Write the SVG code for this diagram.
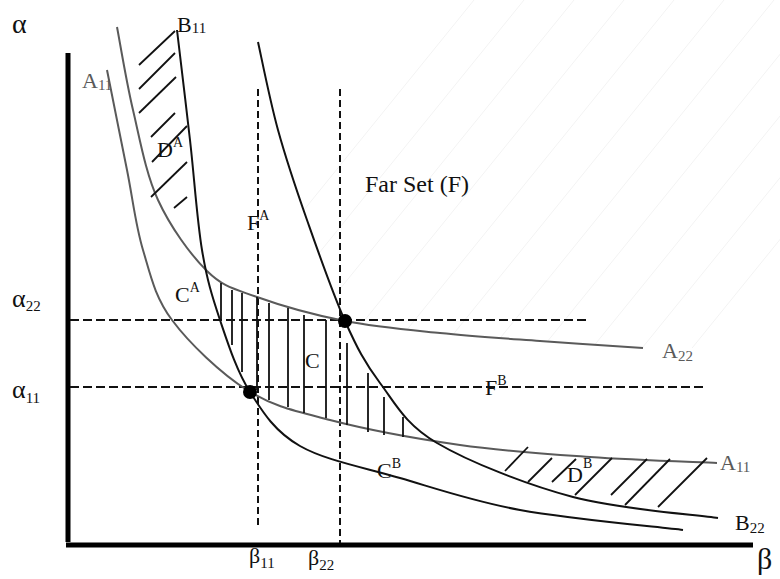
<svg xmlns="http://www.w3.org/2000/svg" width="780" height="579" viewBox="0 0 780 579">
<style>
text{font-family:"Liberation Serif","Times New Roman",serif;fill:#111}
.lbl{font-size:22px}
.gray{fill:#5a5a5a}
.sub{font-size:15px}
.sup{font-size:14px}
.curveA{fill:none;stroke:#5a5a5a;stroke-width:2}
.curveB{fill:none;stroke:#111;stroke-width:2}
.hatch{stroke:#111;stroke-width:1.8;fill:none}
.dash{stroke:#111;stroke-width:2;stroke-dasharray:9 4;fill:none}
.vdash{stroke:#111;stroke-width:2;stroke-dasharray:7 4;fill:none}
.faint{stroke:#f3f3f3;stroke-width:1}
.axis{stroke:#000;stroke-width:5}
</style>
<defs>
<clipPath id="farClip">
<polygon points="258,42 278,130 307,220 345,321 440,333 643,348 780,348 780,0 258,0"/>
</clipPath>
</defs>
<rect width="780" height="579" fill="#fff"/>

<g id="far-set-shading" clip-path="url(#farClip)">
<line class="faint" x1="150" y1="400" x2="474" y2="0"/>
<line class="faint" x1="200" y1="400" x2="524" y2="0"/>
<line class="faint" x1="250" y1="400" x2="574" y2="0"/>
<line class="faint" x1="300" y1="400" x2="624" y2="0"/>
<line class="faint" x1="350" y1="400" x2="674" y2="0"/>
<line class="faint" x1="400" y1="400" x2="724" y2="0"/>
<line class="faint" x1="450" y1="400" x2="774" y2="0"/>
<line class="faint" x1="500" y1="400" x2="824" y2="0"/>
<line class="faint" x1="550" y1="400" x2="874" y2="0"/>
<line class="faint" x1="600" y1="400" x2="924" y2="0"/>
<line class="faint" x1="650" y1="400" x2="974" y2="0"/>
</g>

<g id="axes">
<line class="axis" x1="68" y1="53" x2="68" y2="542"/>
<line class="axis" x1="66" y1="545" x2="753" y2="545"/>
</g>

<g id="connectors">
<line class="dash" x1="70" y1="320" x2="588" y2="320"/>
<line class="dash" x1="70" y1="387" x2="706" y2="387"/>
<line class="vdash" x1="258" y1="89" x2="258" y2="527"/>
<line class="vdash" x1="340" y1="89" x2="340" y2="543"/>
</g>

<g id="curve-A11">
<path class="curveA" d="M107,70 C110.3,86.7 121,140 127,170 C133,200 135.5,225 143,250 C150.5,275 154.7,296.7 172,320 C189.3,343.3 220.7,373.3 247,390 C273.3,406.7 294.5,410.8 330,420 C365.5,429.2 416.7,438.8 460,445 C503.3,451.2 547.2,454 590,457 C632.8,460 695.8,462 717,463"/>
</g>
<g id="curve-A22">
<path class="curveA" d="M117,27 C119.7,40.8 126.2,81.2 133,110 C139.8,138.8 145.7,173.2 158,200 C170.3,226.8 190.5,254.8 207,271 C223.5,287.2 234,288.7 257,297 C280,305.3 314.5,315 345,321 C375.5,327 407.5,329.7 440,333 C472.5,336.3 506.2,338.5 540,341 C573.8,343.5 625.8,346.8 643,348"/>
</g>
<g id="curve-B11">
<path class="curveB" d="M177,30 C179.2,48.3 185.8,103.3 190,140 C194.2,176.7 197,220 202,250 C207,280 212,296.3 220,320 C228,343.7 236.7,371 250,392 C263.3,413 275,431.7 300,446 C325,460.3 363.3,467.3 400,478 C436.7,488.7 472.8,501.3 520,510 C567.2,518.7 655.8,526.7 683,530"/>
</g>
<g id="curve-B22">
<path class="curveB" d="M258,42 C261.3,56.7 269.8,100.3 278,130 C286.2,159.7 295.8,188.2 307,220 C318.2,251.8 332.8,293.8 345,321 C357.2,348.2 364.7,362.7 380,383 C395.3,403.3 404.8,424 437,443 C469.2,462 526.2,484.5 573,497 C619.8,509.5 693.8,514.5 718,518"/>
</g>

<g id="region-DA">
<line class="hatch" x1="139" y1="65" x2="175" y2="31"/>
<line class="hatch" x1="139" y1="89" x2="175" y2="53"/>
<line class="hatch" x1="139" y1="113" x2="176" y2="77"/>
<line class="hatch" x1="151" y1="137" x2="175" y2="113"/>
<line class="hatch" x1="152" y1="162" x2="187" y2="126"/>
<line class="hatch" x1="151" y1="197" x2="187" y2="162"/>
<line class="hatch" x1="174" y1="208" x2="187" y2="197"/>
</g>

<g id="region-C">
<line class="hatch" x1="221" y1="283" x2="221" y2="320"/>
<line class="hatch" x1="232" y1="290" x2="232" y2="345"/>
<line class="hatch" x1="242" y1="293" x2="242" y2="372"/>
<line class="hatch" x1="257" y1="297" x2="257" y2="390"/>
<line class="hatch" x1="269" y1="303" x2="269" y2="400"/>
<line class="hatch" x1="288" y1="308" x2="288" y2="407"/>
<line class="hatch" x1="304" y1="315" x2="304" y2="413"/>
<line class="hatch" x1="326" y1="320" x2="326" y2="418"/>
<line class="hatch" x1="347" y1="343" x2="347" y2="425"/>
<line class="hatch" x1="368" y1="373" x2="368" y2="432"/>
<line class="hatch" x1="384" y1="397" x2="384" y2="435"/>
<line class="hatch" x1="403" y1="417" x2="403" y2="437"/>
</g>

<g id="region-DB">
<line class="hatch" x1="505" y1="471" x2="528" y2="447"/>
<line class="hatch" x1="528" y1="482" x2="552" y2="458"/>
<line class="hatch" x1="552" y1="482" x2="576" y2="459"/>
<line class="hatch" x1="575" y1="495" x2="612" y2="458"/>
<line class="hatch" x1="611" y1="495" x2="647" y2="459"/>
<line class="hatch" x1="625" y1="505" x2="670" y2="459"/>
<line class="hatch" x1="658" y1="507" x2="707" y2="458"/>
</g>

<g id="points">
<circle cx="250" cy="392" r="7" fill="#000"/>
<circle cx="345" cy="321" r="7" fill="#000"/>
</g>

<g id="labels">
<text x="12" y="33" style="font-size:28px">α</text>
<text x="12" y="307" style="font-size:26px">α<tspan class="sub" dy="4">22</tspan></text>
<text x="12" y="398" style="font-size:26px">α<tspan class="sub" dy="5">11</tspan></text>
<text x="757" y="569" style="font-size:30px">β</text>
<text x="249" y="563" style="font-size:22px">β<tspan class="sub" dy="5">11</tspan></text>
<text x="308" y="565" style="font-size:22px">β<tspan class="sub" dy="5">22</tspan></text>
<text class="lbl" x="177" y="32">B<tspan class="sub" dy="1">11</tspan></text>
<text class="lbl gray" x="82" y="88">A<tspan class="sub" dy="2">11</tspan></text>
<text class="lbl" x="157" y="157">D<tspan class="sup" dy="-10">A</tspan></text>
<text class="lbl" x="247" y="230">F<tspan class="sup" dy="-10">A</tspan></text>
<text x="365" y="192" style="font-size:24px">Far Set (F)</text>
<text class="lbl" x="175" y="302">C<tspan class="sup" dy="-10">A</tspan></text>
<text class="lbl" x="305" y="368">C</text>
<text class="lbl" x="485" y="395">F<tspan class="sup" dy="-10">B</tspan></text>
<text class="lbl" x="377" y="478">C<tspan class="sup" dy="-10">B</tspan></text>
<text class="lbl" x="567" y="482">D<tspan class="sup" dy="-14">B</tspan></text>
<text class="lbl gray" x="662" y="358">A<tspan class="sub" dy="3">22</tspan></text>
<text class="lbl gray" x="720" y="470">A<tspan class="sub" dy="2">11</tspan></text>
<text class="lbl" x="735" y="530">B<tspan class="sub" dy="3">22</tspan></text>
</g>
</svg>
